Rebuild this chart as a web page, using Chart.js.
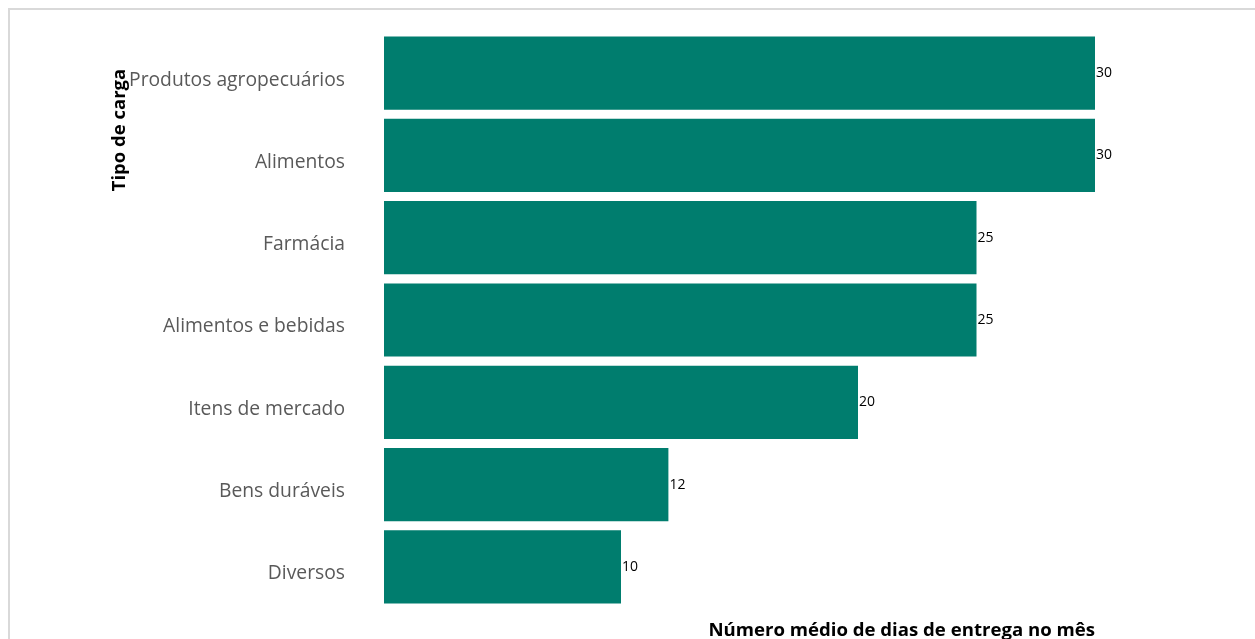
<!DOCTYPE html>
<html>
<head>
<meta charset="utf-8">
<script src="https://cdn.jsdelivr.net/npm/chart.js@4/dist/chart.umd.min.js"></script>
<style>
  html, body { margin: 0; padding: 0; background: #fff; overflow: hidden; }
  #frame { position: absolute; left: 8px; top: 8px; width: 1300px; height: 700px;
           border-left: 2px solid #d9d9d9; border-top: 2px solid #d9d9d9; box-sizing: border-box; }
  #wrap { position: absolute; left: 0; top: 0; width: 1255px; height: 639px; }
</style>
</head>
<body>
<div id="frame"></div>
<div id="wrap"><canvas id="c" width="1255" height="639"></canvas></div>
<script>
const categories = ["Produtos agropecuários", "Alimentos", "Farmácia", "Alimentos e bebidas", "Itens de mercado", "Bens duráveis", "Diversos"];
const values = [30, 30, 25, 25, 20, 12, 10];
const xTitle = "Número médio de dias de entrega no mês";
const yTitle = "Tipo de carga";
const barColor = "#007D6E";
const FONT = "'Open Sans', 'Noto Sans', sans-serif";

const dataLabels = {
  id: 'dataLabels',
  afterDatasetsDraw(chart) {
    const ctx = chart.ctx;
    const meta = chart.getDatasetMeta(0);
    ctx.save();
    ctx.font = "14px " + FONT;
    ctx.fillStyle = "#000";
    ctx.textAlign = "left";
    ctx.textBaseline = "middle";
    meta.data.forEach((bar, i) => {
      ctx.fillText(String(values[i]), bar.x + 1, bar.y);
    });
    ctx.restore();
  }
};

const yTitlePlugin = {
  id: 'yTitlePlugin',
  afterDraw(chart) {
    const ctx = chart.ctx;
    ctx.save();
    ctx.translate(120, 130);
    ctx.rotate(-Math.PI / 2);
    ctx.font = "bold 18.5px " + FONT;
    ctx.fillStyle = "#000";
    ctx.textAlign = "center";
    ctx.textBaseline = "middle";
    ctx.fillText(yTitle, 0, 0);
    ctx.restore();
  }
};

new Chart(document.getElementById('c'), {
  type: 'bar',
  data: {
    labels: categories,
    datasets: [{
      data: values,
      backgroundColor: barColor,
      borderWidth: 0,
      categoryPercentage: 1,
      barPercentage: 0.89
    }]
  },
  options: {
    indexAxis: 'y',
    responsive: false,
    animation: false,
    layout: { padding: { top: 32, right: 160, left: 0, bottom: 0 } },
    plugins: { legend: { display: false }, tooltip: { enabled: false } },
    scales: {
      x: {
        min: 0, max: 30,
        grid: { display: false, drawTicks: false },
        border: { display: false },
        ticks: { display: false },
        title: { display: true, text: xTitle, align: 'end', color: '#000',
                 font: { family: FONT, size: 18.6, weight: 'bold' }, padding: { top: 0, bottom: -3 } },
        afterFit(s) { s.height = 31; s.paddingLeft = 0; s.paddingRight = 0; }
      },
      y: {
        grid: { display: false, drawTicks: false },
        border: { display: false },
        ticks: { color: '#595959', padding: 39, labelOffset: 7, font: { family: FONT, size: 19.3 } },
        afterFit(s) { s.width = 384; s.paddingTop = 0; s.paddingBottom = 0; }
      }
    }
  },
  plugins: [dataLabels, yTitlePlugin]
});
</script>
</body>
</html>
